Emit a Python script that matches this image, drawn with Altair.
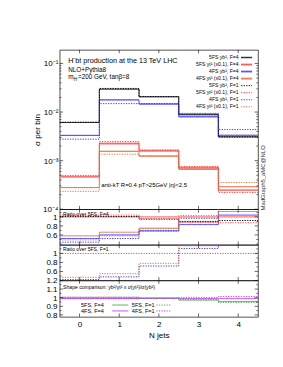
import altair as alt
import pandas as pd

FONT = "Liberation Sans"

# ---------------- data ----------------
njet_edges = [-0.5, 0.5, 1.5, 2.5, 3.5, 4.5]
njet_ticks = [0, 1, 2, 3, 4]

# main panel: sigma per bin, N jets = 0..4
s5_yb_F4 = [6.1e-3, 2.96e-2, 2.06e-2, 8.8e-3, 3.10e-3]
s5_yt_F4 = [4.64e-4, 2.23e-3, 1.59e-3, 7.1e-4, 2.48e-4]
s4_yb_F4 = [3.30e-3, 1.78e-2, 1.46e-2, 8.0e-3, 3.33e-3]
s4_yt_F4 = [2.80e-4, 1.55e-3, 1.24e-3, 6.6e-4, 2.91e-4]
s5_yb_F1 = [6.2e-3, 3.06e-2, 2.09e-2, 9.1e-3, 3.05e-3]
s5_yt_F1 = [4.96e-4, 2.48e-3, 1.66e-3, 7.6e-4, 2.22e-4]
s4_yb_F1 = [2.77e-3, 1.49e-2, 1.50e-2, 9.4e-3, 4.36e-3]
s4_yt_F1 = [2.34e-4, 1.36e-3, 1.25e-3, 7.0e-4, 3.56e-4]

# uncertainty bands (F=4 curves)
b5_yb_lo = [6.0e-3, 2.90e-2, 2.02e-2, 8.6e-3, 3.04e-3]
b5_yb_hi = [6.2e-3, 3.02e-2, 2.10e-2, 9.0e-3, 3.16e-3]
b5_yt_lo = [4.5e-4, 2.15e-3, 1.53e-3, 6.8e-4, 2.40e-4]
b5_yt_hi = [4.9e-4, 2.40e-3, 1.68e-3, 7.6e-4, 2.56e-4]
b4_yb_lo = [3.2e-3, 1.73e-2, 1.42e-2, 7.7e-3, 3.25e-3]
b4_yb_hi = [3.4e-3, 1.83e-2, 1.50e-2, 8.3e-3, 3.41e-3]
b4_yt_lo = [2.72e-4, 1.50e-3, 1.20e-3, 6.4e-4, 2.84e-4]
b4_yt_hi = [2.88e-4, 1.62e-3, 1.28e-3, 6.8e-4, 2.98e-4]

# ratio over 5FS, F=4
r1_5yt_F4 = [1.0, 1.0, 1.0, 1.0, 1.0]
r1_4yb_F4 = [0.52, 0.60, 0.69, 0.83, 1.04]
r1_4yt_F4 = [0.58, 0.66, 0.75, 0.89, 1.12]
r1_5yb_F1 = [1.01, 1.01, 0.95, 0.90, 0.92]
r1_5yt_F1 = [1.04, 1.04, 0.96, 0.88, 0.87]
r1_4yb_F1 = [0.44, 0.52, 0.69, 0.97, 1.41]
r1_4yt_F1 = [0.49, 0.58, 0.74, 1.03, 1.43]

# ratio over 5FS, F=1
r2_5yt_F1 = [1.0, 1.0, 1.0, 1.0, 1.0]
r2_4yb_F1 = [0.42, 0.48, 0.72, 1.11, 1.42]
r2_4yt_F1 = [0.47, 0.55, 0.78, 1.17, 1.45]

# shape comparison
r3_5F4 = [1.005, 1.005, 0.995, 0.972, 0.955]
r3_4F4 = [0.99, 0.99, 0.993, 0.99, 0.99]
r3_5F1 = [1.0, 1.0, 0.99, 0.98, 0.945]
r3_4F1 = [0.99, 0.99, 0.995, 1.003, 1.013]

main_names = ["5FS yb², F=4", "5FS yt² (x0.1), F=4", "4FS yb², F=4", "4FS yt² (x0.1), F=4",
              "5FS yb², F=1", "5FS yt² (x0.1), F=1", "4FS yb², F=1", "4FS yt² (x0.1), F=1"]
band_names = ["band 5FS yb", "band 5FS yt", "band 4FS yb", "band 4FS yt"]
shape_names = ["5FS, F=4", "4FS, F=4", "5FS, F=1", "4FS, F=1"]

# ---------------- styles ----------------
BLACK, RED, BLUE, ORANGE = "#000000", "#ff3a3a", "#3030ff", "#e0703a"
GREEN, MAGENTA = "#3fae3f", "#cc33ff"
ALL_NAMES = main_names + band_names + shape_names
ALL_COLORS = [BLACK, RED, BLUE, ORANGE, BLACK, RED, BLUE, ORANGE,
              "#c4c4c4", "#ffb0b0", "#b4b4ff", "#f4c4a8",
              GREEN, MAGENTA, GREEN, MAGENTA]
SOLID, DOT = [1, 0], [1.5, 1.5]
ALL_DASH = [SOLID] * 4 + [DOT] * 4 + [SOLID] * 4 + [SOLID, SOLID, DOT, DOT]
COLOR_OF = dict(zip(ALL_NAMES, ALL_COLORS))
DASH_OF = dict(zip(ALL_NAMES, ALL_DASH))

color_scale = alt.Scale(domain=ALL_NAMES, range=ALL_COLORS)
dash_scale = alt.Scale(domain=ALL_NAMES, range=ALL_DASH)

W = 234
H_MAIN, H_R1, H_R2, H_R3 = 188, 42, 42, 43
xs = alt.Scale(domain=[-0.5, 4.5], nice=False, zero=False)
# main panel: linear scale on log10(sigma), from 1e-4 to 0.19
ys_main = alt.Scale(domain=[-4.0, -0.721], nice=False, zero=False)
ys_r1 = alt.Scale(domain=[0.38, 1.17], nice=False, zero=False)
ys_r2 = alt.Scale(domain=[0.40, 1.19], nice=False, zero=False)
ys_r3 = alt.Scale(domain=[0.777, 1.2], nice=False, zero=False)

LOG10 = "log(datum.{f}) / LN10"


def step_df(names, series):
    rows = []
    for name, vals in zip(names, series):
        ys = list(vals) + [vals[-1]]
        for e, y in zip(njet_edges, ys):
            rows.append({"s": name, "x": e, "y": y})
    return pd.DataFrame(rows)


def band_df(names, los, his):
    rows = []
    for name, lo, hi in zip(names, los, his):
        lo2 = list(lo) + [lo[-1]]
        hi2 = list(hi) + [hi[-1]]
        for e, a, b in zip(njet_edges, lo2, hi2):
            rows.append({"s": name, "x": e, "lo": a, "hi": b})
    return pd.DataFrame(rows)


def lines(df, yscale, yaxis, xaxis=None, log=False):
    base = alt.Chart(df)
    yf = "y"
    if log:
        base = base.transform_calculate(ly=LOG10.format(f="y"))
        yf = "ly"
    return base.mark_line(interpolate="step-after", strokeWidth=1.1, clip=True).encode(
        x=alt.X("x:Q", scale=xs, axis=xaxis),
        y=alt.Y(f"{yf}:Q", scale=yscale, axis=yaxis),
        color=alt.Color("s:N", scale=color_scale, legend=None),
        strokeDash=alt.StrokeDash("s:N", scale=dash_scale, legend=None),
    )


def ticks(yscale, yaxis, xaxis, ymajor, yminor, H, log=False):
    # inward tick marks on all four sides (same axis objects so that the axes are kept)
    layers = []
    for vals, L in ((ymajor, 4), (yminor, 2)):
        b = alt.Chart(pd.DataFrame({"v": vals}))
        if log:
            b = b.transform_calculate(tv=LOG10.format(f="v"))
        else:
            b = b.transform_calculate(tv="datum.v")
        b = b.mark_rule(color="black", strokeWidth=0.7)
        layers.append(b.encode(y=alt.Y("tv:Q", scale=yscale, axis=yaxis), x=alt.value(0), x2=alt.value(L)))
        layers.append(b.encode(y=alt.Y("tv:Q", scale=yscale, axis=yaxis), x=alt.value(W - L), x2=alt.value(W)))
    b = alt.Chart(pd.DataFrame({"v": njet_ticks})).mark_rule(color="black", strokeWidth=0.7)
    layers.append(b.encode(x=alt.X("v:Q", scale=xs, axis=xaxis), y=alt.value(0), y2=alt.value(4)))
    layers.append(b.encode(x=alt.X("v:Q", scale=xs, axis=xaxis), y=alt.value(H - 4), y2=alt.value(H)))
    return layers


ONE = pd.DataFrame({"k": [0]})


def label(text, x, y, size=6, align="left", angle=0, color="black"):
    return alt.Chart(pd.DataFrame({"t": [text]})).mark_text(
        align=align, baseline="middle", fontSize=size, font=FONT, color=color, angle=angle
    ).encode(x=alt.value(x), y=alt.value(y), text="t:N")


def sample(name, x1, x2, y, width=1.1):
    m = alt.Chart(ONE).mark_rule(strokeWidth=width, color=COLOR_OF[name], strokeDash=DASH_OF[name])
    return m.encode(x=alt.value(x1), x2=alt.value(x2), y=alt.value(y))


ratio_axis = dict(ticks=False, domain=False, grid=False, labelFontSize=9.5, labelPadding=3,
                  format=".1~f", title=None, labelFont=FONT)

# ---------------- main panel ----------------
df_main = step_df(main_names, [s5_yb_F4, s5_yt_F4, s4_yb_F4, s4_yt_F4,
                               s5_yb_F1, s5_yt_F1, s4_yb_F1, s4_yt_F1])
df_band = band_df(band_names, [b5_yb_lo, b5_yt_lo, b4_yb_lo, b4_yt_lo],
                  [b5_yb_hi, b5_yt_hi, b4_yb_hi, b4_yt_hi])

main_axis = alt.Axis(
    values=[-4, -3, -2, -1], ticks=False, domain=False, grid=False,
    labelExpr="datum.value > -1.5 ? '10⁻¹' : datum.value > -2.5 ? '10⁻²' : datum.value > -3.5 ? '10⁻³' : '10⁻⁴'",
    labelFontSize=9.5, labelPadding=2, labelFont=FONT,
    title="σ per bin", titleFontSize=9.5, titlePadding=2, titleFont=FONT, titleFontWeight="normal",
)

bands = alt.Chart(df_band).transform_calculate(
    llo=LOG10.format(f="lo"), lhi=LOG10.format(f="hi")
).mark_area(interpolate="step-after", clip=True).encode(
    x=alt.X("x:Q", scale=xs, axis=None),
    y=alt.Y("llo:Q", scale=ys_main, axis=main_axis),
    y2="lhi:Q",
    color=alt.Color("s:N", scale=color_scale, legend=None),
)
main_lines = lines(df_main, ys_main, main_axis, log=True)

major_main = [1e-4, 1e-3, 1e-2, 1e-1]
minor_main = [m * 10.0 ** k for k in (-4, -3, -2) for m in range(2, 10)]

legend_layers = []
for i, name in enumerate(main_names):
    py = 9 + 8.3 * i
    if i < 4:
        legend_layers.append(sample(band_names[i], 214, 227, py, width=3))
    legend_layers.append(sample(name, 214, 227, py))
    legend_layers.append(label(name, 211, py, size=6, align="right"))

main = alt.layer(
    bands, main_lines, *ticks(ys_main, main_axis, None, major_main, minor_main, H_MAIN, log=True),
    *legend_layers,
    label("H⁻bt production at the 13 TeV LHC", 10, 12, size=8.5),
    label("NLO+Pythia8", 10, 24, size=7.5),
    label("m", 10, 32.5, size=7.5),
    label("H⁻", 16.3, 34.5, size=5.5),
    label("=200 GeV, tanβ=8", 21.5, 32.5, size=7.5),
    label("anti-kT R=0.4 pT>25GeV |η|<2.5", 49, 160, size=7),
    label("MadGraph5_aMC@NLO", 240, 151, size=7, align="center", angle=270, color="#333333"),
).properties(width=W, height=H_MAIN)

# ---------------- ratio over 5FS, F=4 ----------------
df_r1 = step_df(["5FS yt² (x0.1), F=4", "4FS yb², F=4", "4FS yt² (x0.1), F=4", "5FS yb², F=1",
                 "5FS yt² (x0.1), F=1", "4FS yb², F=1", "4FS yt² (x0.1), F=1"],
                [r1_5yt_F4, r1_4yb_F4, r1_4yt_F4, r1_5yb_F1, r1_5yt_F1, r1_4yb_F1, r1_4yt_F1])
ax_r1 = alt.Axis(values=[0.6, 0.8, 1.0], **ratio_axis)
r1 = alt.layer(
    lines(df_r1, ys_r1, ax_r1),
    *ticks(ys_r1, ax_r1, None, [0.6, 0.8, 1.0], [0.4, 0.5, 0.7, 0.9, 1.1], H_R1),
    label("Ratio over 5FS, F=4", 4, 5.5, size=6),
).properties(width=W, height=H_R1)

# ---------------- ratio over 5FS, F=1 ----------------
df_r2 = step_df(["5FS yt² (x0.1), F=1", "4FS yb², F=1", "4FS yt² (x0.1), F=1"],
                [r2_5yt_F1, r2_4yb_F1, r2_4yt_F1])
ax_r2 = alt.Axis(values=[0.6, 0.8, 1.0], **ratio_axis)
r2 = alt.layer(
    lines(df_r2, ys_r2, ax_r2),
    *ticks(ys_r2, ax_r2, None, [0.6, 0.8, 1.0], [0.5, 0.7, 0.9, 1.1], H_R2),
    label("Ratio over 5FS, F=1", 4, 5, size=6),
).properties(width=W, height=H_R2)

# ---------------- shape comparison ----------------
df_r3 = step_df(shape_names, [r3_5F4, r3_4F4, r3_5F1, r3_4F1])
x_axis = alt.Axis(values=njet_ticks, ticks=False, domain=False, grid=False, labelFontSize=9.5,
                  labelPadding=4, labelFont=FONT, title="N jets", titleFontSize=9.5,
                  titlePadding=3, titleFont=FONT, titleFontWeight="normal")
ax_r3 = alt.Axis(values=[0.8, 0.9, 1.0, 1.1, 1.2], **ratio_axis)

shape_leg = []
for i, name in enumerate(shape_names):
    col, row = i // 2, i % 2
    py = 29 + 7 * row
    tx, lx1, lx2 = (52, 62, 81) if col == 0 else (112, 114, 131)
    shape_leg.append(sample(name, lx1, lx2, py))
    shape_leg.append(label(name, tx, py, size=6.5, align="right"))

r3 = alt.layer(
    lines(df_r3, ys_r3, ax_r3, xaxis=x_axis),
    *ticks(ys_r3, ax_r3, x_axis, [0.8, 0.9, 1.0, 1.1, 1.2], [0.85, 0.95, 1.05, 1.15], H_R3),
    *shape_leg,
    label("Shape comparison: yb²/yt² x σ(yt²)/σ(yb²)", 4, 8.5, size=6),
).properties(width=W, height=H_R3)

chart = alt.vconcat(main, r1, r2, r3, spacing=0, bounds="flush").properties(
    padding={"left": 28, "top": 14, "right": 10, "bottom": 26}
).configure_view(stroke="black", strokeWidth=0.8).configure_axis(
    labelColor="black", titleColor="black"
)

chart.save("out.html", embed_options={"renderer": "svg", "actions": False})
